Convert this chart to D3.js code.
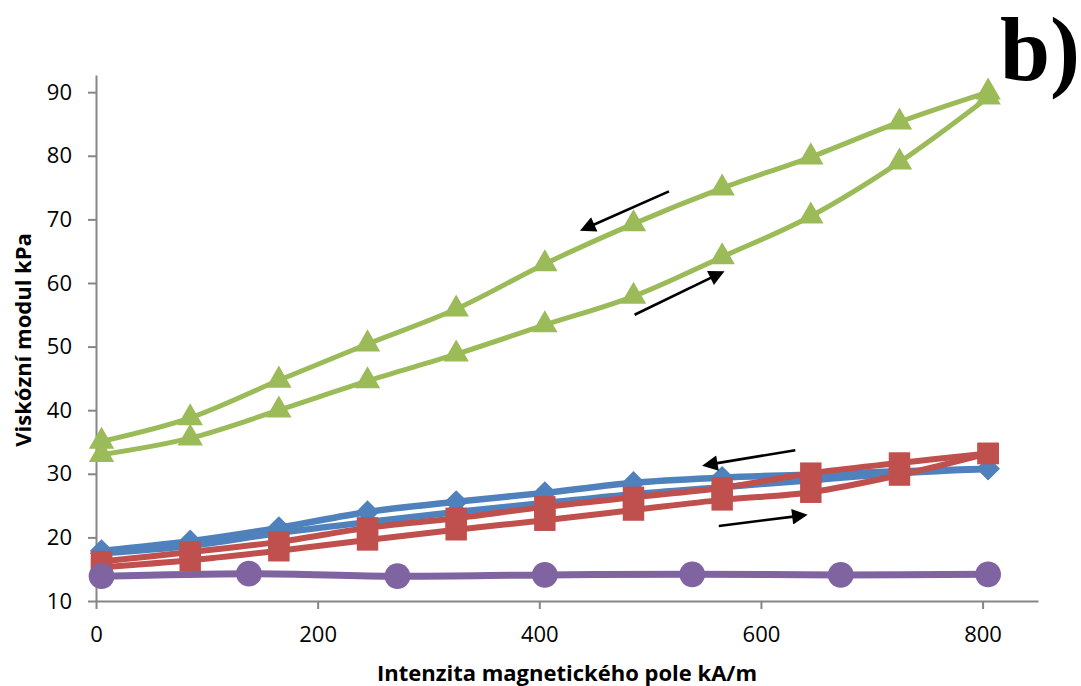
<!DOCTYPE html>
<html>
<head>
<meta charset="utf-8">
<script src="https://d3js.org/d3.v7.min.js"></script>
<style>
  body { margin: 0; background: white; }
  svg { display: block; }
</style>
</head>
<body>
<div id="chart"></div>
<script>
//x positions of the measurements (kA/m)
var fieldSteps = [5, 85, 165, 245, 325, 405, 485, 565, 645, 725, 805];
var fieldPurple = [5, 138, 272, 405, 538, 672, 805];

//green (triangles) - increasing and decreasing field
var greenUp = [33.0, 35.6, 40.0, 44.6, 48.8, 53.4, 57.9, 64.1, 70.5, 79.0, 89.2];
var greenDown = [35.1, 38.8, 44.7, 50.4, 55.9, 63.0, 69.3, 74.9, 79.8, 85.3, 90.0];

//blue (diamonds)
var blueUp = [17.5, 18.7, 20.7, 22.4, 24.0, 25.4, 26.8, 27.9, 29.0, 30.1, 30.8];
var blueDown = [17.9, 19.4, 21.5, 24.0, 25.6, 27.0, 28.6, 29.4, 29.9, 30.4, 30.8];

//red (squares)
var redUp = [15.3, 16.4, 17.9, 19.6, 21.2, 22.7, 24.3, 25.9, 27.1, 29.8, 33.2];
var redDown = [16.2, 17.7, 19.3, 21.5, 23.0, 24.8, 26.3, 27.8, 30.1, 31.7, 33.2];

//purple (circles)
var purple = [13.9, 14.3, 13.9, 14.1, 14.2, 14.1, 14.2];

//tick labels
var xTicks = [0, 200, 400, 600, 800];
var yTicks = [10, 20, 30, 40, 50, 60, 70, 80, 90];

//direction arrows in data units: [x1, y1, x2, y2], head at the second point
var arrows = [
    [517, 74.4, 447, 69.0],
    [486, 55.0, 557, 61.0],
    [631, 33.7, 558, 31.6],
    [562, 21.8, 631, 23.3]
];

var width = 1081, height = 686;
var svg = d3.select("#chart").append("svg")
    .attr("width", width).attr("height", height)
    .style("background-color", "white");

var x = d3.scaleLinear().domain([0, 850]).range([96, 1038]);
var y = d3.scaleLinear().domain([10, 92.7]).range([601, 75]);

var axisColor = "#868686";
var font = "'Open Sans', 'Liberation Sans', sans-serif";

//axes
var xAxis = svg.append("g").attr("transform", "translate(0,601)")
    .call(d3.axisBottom(x).tickValues(xTicks).tickSize(8).tickPadding(17).tickSizeOuter(0));
var yAxis = svg.append("g").attr("transform", "translate(96,0)")
    .call(d3.axisLeft(y).tickValues(yTicks).tickSize(8).tickPadding(16).tickSizeOuter(0));

[xAxis, yAxis].forEach(function(a) {
    a.select(".domain").attr("stroke", axisColor).attr("stroke-width", 2);
    a.selectAll(".tick line").attr("stroke", axisColor).attr("stroke-width", 2);
    a.selectAll(".tick text").attr("fill", "#000").style("font-family", font).style("font-size", "22px");
});
xAxis.selectAll(".tick text").attr("dy", "0.71em");

//axis titles
svg.append("text")
    .attr("x", 567).attr("y", 681)
    .attr("text-anchor", "middle")
    .style("font-family", font).style("font-size", "22px").style("font-weight", "bold")
    .text("Intenzita magnetického pole kA/m");

svg.append("text")
    .attr("transform", "translate(31,340) rotate(-90)")
    .attr("text-anchor", "middle")
    .style("font-family", font).style("font-size", "22px").style("font-weight", "bold")
    .text("Viskózní modul kPa");

//panel label
svg.append("text")
    .attr("x", 1000).attr("y", 80)
    .style("font-family", "'Liberation Serif', 'DejaVu Serif', serif")
    .style("font-size", "90px").style("font-weight", "bold")
    .text("b)");

//series definitions, drawn in this order
var series = [
    {xs: fieldSteps, ys: blueUp, color: "#4F81BD", shape: d3.symbolSquare, size: 270, rot: 45, w: 6.5},
    {xs: fieldSteps, ys: blueDown, color: "#4F81BD", shape: d3.symbolSquare, size: 270, rot: 45, w: 6.5},
    {xs: fieldSteps, ys: redUp, color: "#C0504D", shape: d3.symbolSquare, size: 460, rot: 0, w: 6},
    {xs: fieldSteps, ys: redDown, color: "#C0504D", shape: d3.symbolSquare, size: 460, rot: 0, w: 6},
    {xs: fieldSteps, ys: greenUp, color: "#9BBB59", shape: d3.symbolTriangle, size: 280, rot: 0, w: 5},
    {xs: fieldSteps, ys: greenDown, color: "#9BBB59", shape: d3.symbolTriangle, size: 280, rot: 0, w: 5},
    {xs: fieldPurple, ys: purple, color: "#8064A2", shape: d3.symbolCircle, size: 520, rot: 0, w: 7}
];

var line = d3.line()
    .x(function(d) { return x(d[0]); })
    .y(function(d) { return y(d[1]); })
    .curve(d3.curveCatmullRom.alpha(0.5));

series.forEach(function(s) {
    var pts = s.xs.map(function(v, i) { return [v, s.ys[i]]; });
    var g = svg.append("g");
    g.append("path")
        .datum(pts)
        .attr("d", line)
        .attr("fill", "none")
        .attr("stroke", s.color)
        .attr("stroke-width", s.w)
        .attr("stroke-linejoin", "round");
    g.selectAll("path.marker")
        .data(pts)
        .enter()
        .append("path")
        .attr("class", "marker")
        .attr("d", d3.symbol().type(s.shape).size(s.size))
        .attr("transform", function(d) { return "translate(" + x(d[0]) + "," + y(d[1]) + ") rotate(" + s.rot + ")"; })
        .attr("fill", s.color);
});

//arrowhead marker and arrows
svg.append("defs").append("marker")
    .attr("id", "head")
    .attr("viewBox", "0 0 10 10")
    .attr("refX", 2).attr("refY", 5)
    .attr("markerWidth", 8).attr("markerHeight", 6)
    .attr("markerUnits", "strokeWidth")
    .attr("orient", "auto")
    .append("path")
    .attr("d", "M0,0 L10,5 L0,10 Z")
    .attr("fill", "black");

svg.selectAll("line.arrow")
    .data(arrows)
    .enter()
    .append("line")
    .attr("class", "arrow")
    .attr("x1", function(d) { return x(d[0]); })
    .attr("y1", function(d) { return y(d[1]); })
    .attr("x2", function(d) { return x(d[2]); })
    .attr("y2", function(d) { return y(d[3]); })
    .attr("stroke", "black")
    .attr("stroke-width", 2.6)
    .attr("marker-end", "url(#head)");
</script>
</body>
</html>
